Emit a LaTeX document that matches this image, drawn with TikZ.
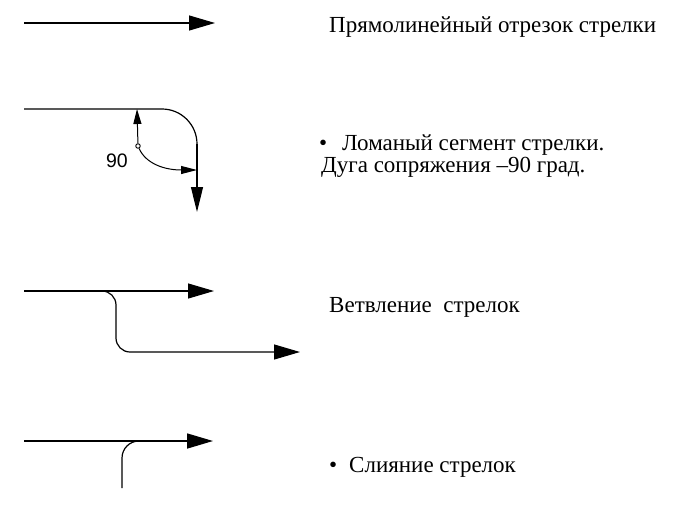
\documentclass[tikz,border=0pt]{standalone}
\usepackage{fontspec}
\setmainfont{Liberation Serif}
\newfontfamily\numfont{Liberation Sans}
\usetikzlibrary{arrows.meta}

\begin{document}
\begin{tikzpicture}[x=1pt,y=-1pt,
  flow/.style={-{Triangle[length=26pt,width=15pt]}, line width=1.2pt},
  lbl/.style={anchor=base west, inner sep=0pt, font=\fontsize{23}{24}\selectfont}]
\useasboundingbox (0,0) rectangle (674,522);

% straight segment
\coordinate (s1) at (24,23);
\coordinate (e1) at (215,23);
\draw[flow] (s1) -- (e1);
\node[lbl] (straight) at (329,32) {Прямолинейный отрезок стрелки};

% bent segment
\coordinate (s2) at (24,109);
\coordinate (k2) at (162,109);
\coordinate (a2) at (197,144);
\coordinate (e2) at (197,212);
\draw[line width=1.2pt] (s2) -- (k2) .. controls (181.3,109) and (197,124.7) .. (a2);
\draw[-{Triangle[length=25pt,width=12pt]}, line width=1.2pt] (a2) -- (e2);
\node[draw, circle, inner sep=0pt, minimum size=4.5pt, line width=0.9pt] (deg) at (138,146) {};
\node[font=\numfont\fontsize{19.5}{22}\selectfont, inner sep=0pt] (ninety) at (117,161) {90};
\coordinate (up2) at (137,109);
\coordinate (right2) at (197,170);
\draw[-{Triangle[length=15pt,width=8pt]}, line width=1pt] (deg) -- (up2);
\draw[-{Triangle[length=16pt,width=8pt]}, line width=1pt] (deg) .. controls (146,164) and (165,170) .. (right2);
\node[lbl] (bentdot) at (319,150) {•};
\node[lbl] (bent) at (342,150) {Ломаный сегмент стрелки.};
\node[lbl] (arc) at (321,172) {Дуга сопряжения –90 град.};

% branching
\coordinate (s3) at (24,291);
\coordinate (e3) at (214,291);
\coordinate (b3) at (100,291);
\coordinate (t3) at (116,352);
\coordinate (f3) at (300,352);
\draw[flow] (s3) -- (e3);
\draw[flow, rounded corners=14pt] (b3) -| (t3) -- (f3);
\node[lbl] (branch) at (329,312) {Ветвление\ \ стрелок};

% merging
\coordinate (s4) at (24,441);
\coordinate (e4) at (213,441);
\coordinate (m4) at (122,488);
\coordinate (j4) at (150,441);
\draw[flow, line width=1.6pt] (s4) -- (e4);
\draw[line width=1.2pt, rounded corners=17pt] (m4) |- (j4);
\node[lbl] (mergedot) at (329,472) {•};
\node[lbl] (merge) at (349,472) {Слияние стрелок};

\end{tikzpicture}
\end{document}
